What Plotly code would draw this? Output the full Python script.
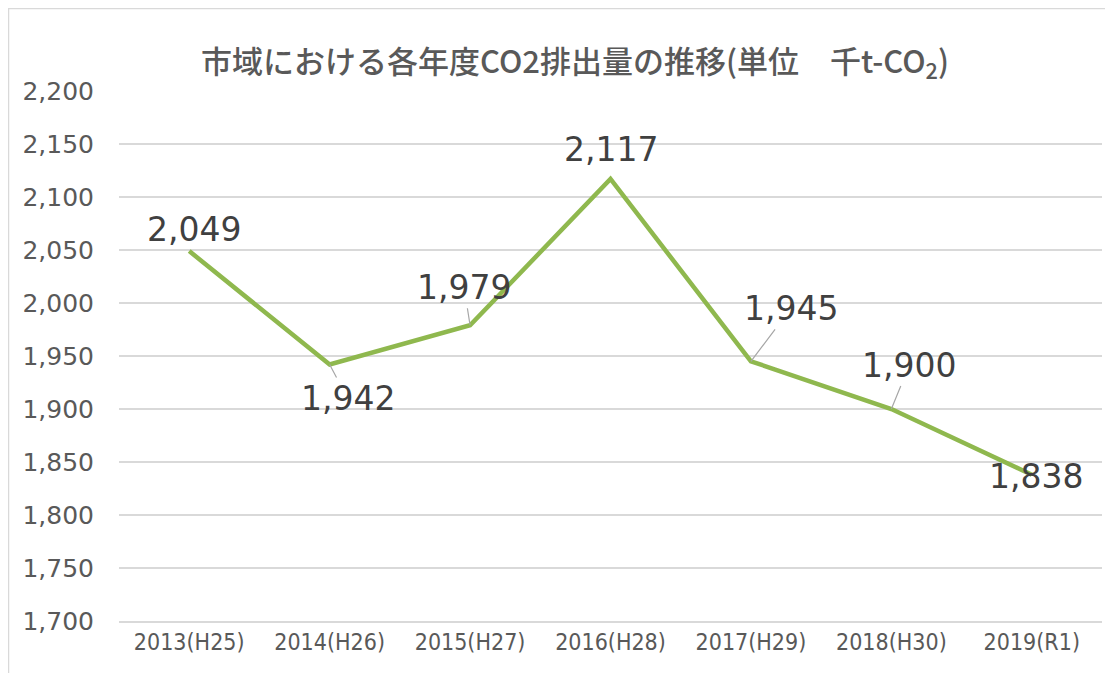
import plotly.graph_objects as go

categories = ["2013(H25)", "2014(H26)", "2015(H27)", "2016(H28)", "2017(H29)", "2018(H30)", "2019(R1)"]
emissions = [2049, 1942, 1979, 2117, 1945, 1900, 1838]
label_texts = ["2,049", "1,942", "1,979", "2,117", "1,945", "1,900", "1,838"]
y_ticks = [1700, 1750, 1800, 1850, 1900, 1950, 2000, 2050, 2100, 2150, 2200]
y_tick_labels = ["1,700", "1,750", "1,800", "1,850", "1,900", "1,950", "2,000", "2,050", "2,100", "2,150", "2,200"]

# label offsets (pixels) and whether a leader line is shown
label_dx = [5, 18, -6, 0, 40, 18, 4]
label_dy = [-22, 34, -38, -29, -53, -44, 2]
leader = [False, True, True, False, True, True, False]

W, H = 1105, 665

fig = go.Figure()
fig.add_trace(go.Scatter(
    x=categories, y=emissions, mode="lines",
    line=dict(color="#8fb84e", width=4.5),
    hoverinfo="skip", showlegend=False,
))

annotations = []
for c, v, t, dx, dy, ld in zip(categories, emissions, label_texts, label_dx, label_dy, leader):
    if ld:
        annotations.append(dict(
            x=c, y=v, text=t, showarrow=True, ax=dx, ay=dy,
            arrowhead=0, arrowwidth=1.2, arrowcolor="#a6a6a6", standoff=0,
            font=dict(family="DejaVu Sans", size=33, color="#404040"),
        ))
    else:
        annotations.append(dict(
            x=c, y=v, text=t, showarrow=False, xshift=dx, yshift=-dy,
            font=dict(family="DejaVu Sans", size=33, color="#404040"),
        ))

fig.update_layout(
    width=W, height=H,
    margin=dict(l=111, r=11, t=83, b=52),
    paper_bgcolor="white", plot_bgcolor="white",
    title=dict(
        text="市域における各年度CO2排出量の推移(単位　千t-CO<sub>2</sub>)",
        x=567 / W, xanchor="center", y=1 - 54 / H, yanchor="middle",
        font=dict(family="Noto Sans CJK JP", size=31, color="#595959", weight=500),
    ),
    xaxis=dict(
        type="category", range=[-0.5, 6.5], showgrid=False,
        showline=True, linecolor="#d9d9d9", linewidth=1.5, ticks="",
        tickfont=dict(family="DejaVu Sans Condensed, Roboto Condensed, DejaVu Sans", size=23, color="#595959"),
    ),
    yaxis=dict(
        range=[1700, 2200], tickvals=y_ticks, ticktext=y_tick_labels,
        showgrid=True, gridcolor="#d9d9d9", gridwidth=1.5, zeroline=False,
        showline=False, ticks="", ticklabelstandoff=24,
        tickfont=dict(family="DejaVu Sans", size=25, color="#595959"),
    ),
    annotations=annotations,
    shapes=[dict(
        type="rect", xref="paper", yref="paper",
        x0=-111 / 983, x1=1.05, y0=-0.2, y1=1 + 83 / 530,
        line=dict(color="#d9d9d9", width=2.5), fillcolor="rgba(0,0,0,0)", layer="below",
    )],
)

fig.write_html("out.html")
